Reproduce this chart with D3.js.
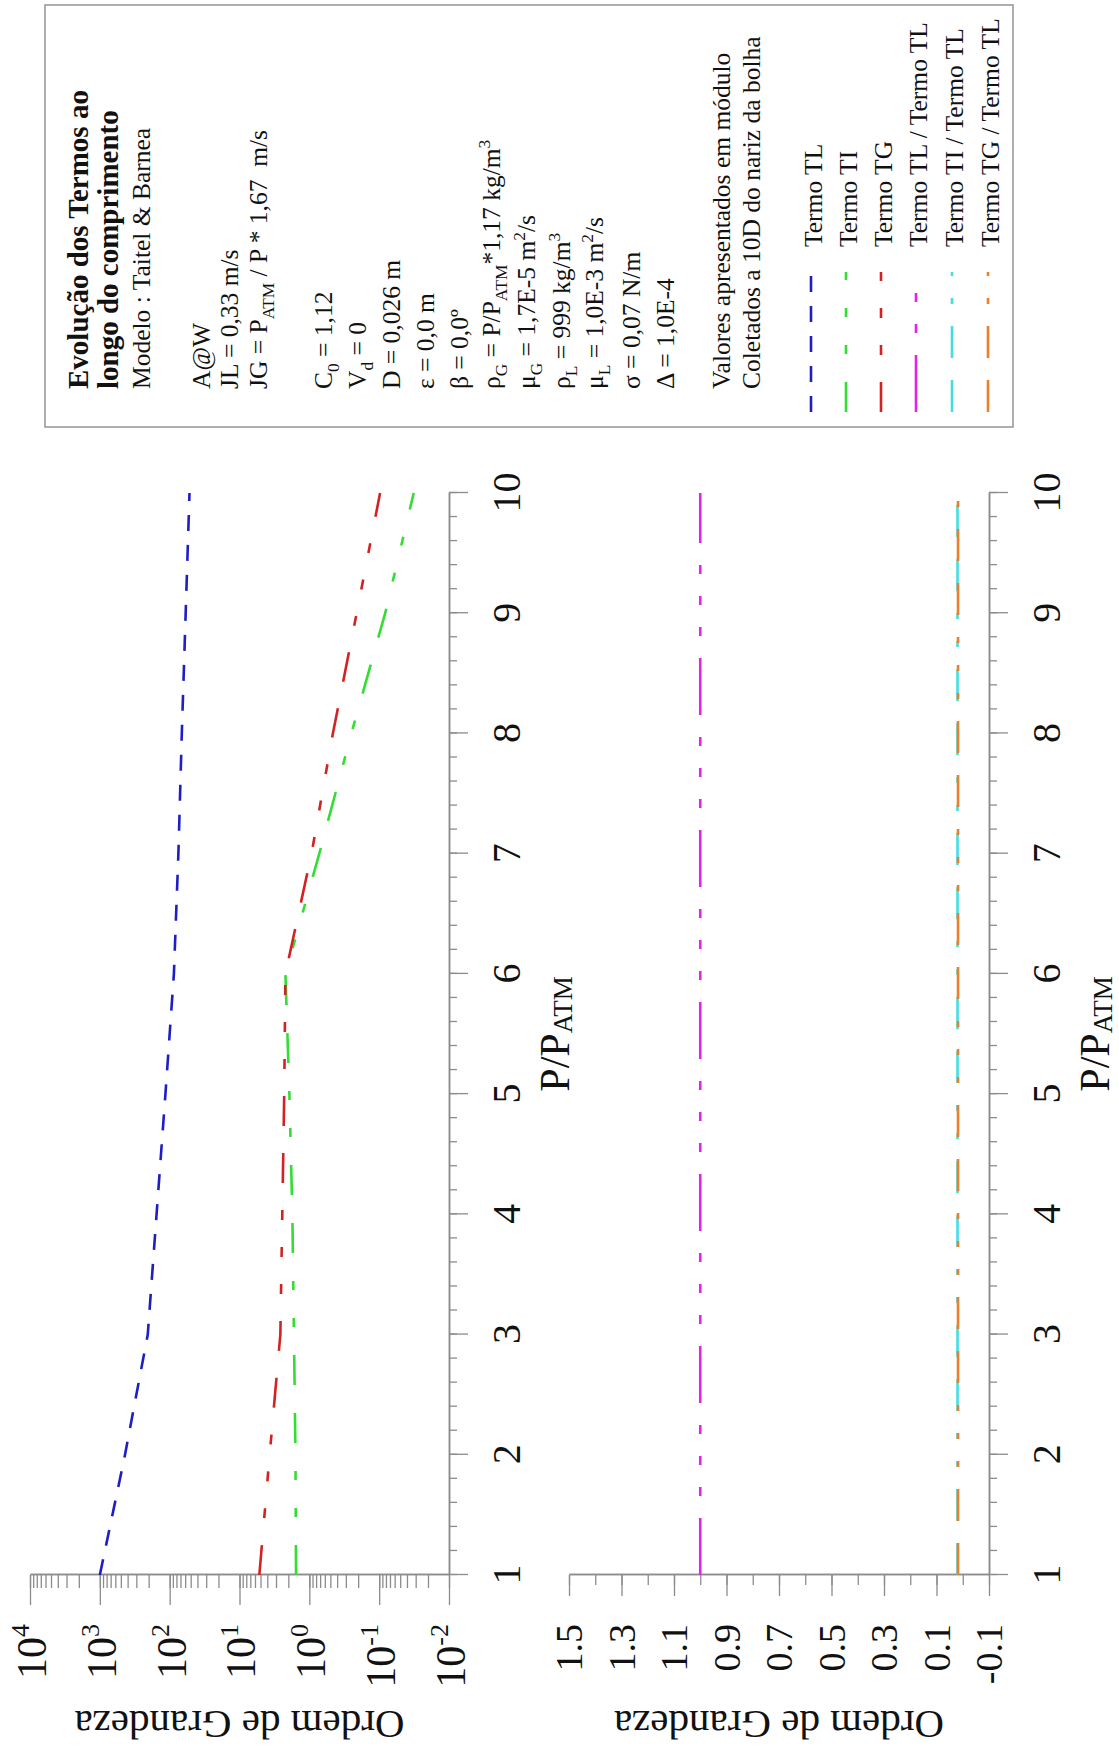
<!DOCTYPE html>
<html><head><meta charset="utf-8">
<script src="https://cdn.jsdelivr.net/npm/d3@7"></script>
<style>body{margin:0;background:#fff}svg{display:block}</style>
</head><body>
<svg id="c" width="1119" height="1747"></svg>
<script>
// ---------- data ----------
const pressure = [1, 2, 3, 4, 5, 6, 7, 8, 9, 10];
const termoTL = [1000, 436, 206, 154, 115, 87, 75, 67, 59, 52];
const termoTI = [1.55, 1.58, 1.66, 1.75, 1.93, 2.2, 0.72, 0.25, 0.082, 0.032];
const termoTG = [5.2, 3.7, 2.6, 2.44, 2.29, 2.2, 0.93, 0.46, 0.21, 0.097];
const ratioTLTL = [1, 1, 1, 1, 1, 1, 1, 1, 1, 1];
const ratioTITL = [0.02, 0.02, 0.02, 0.02, 0.02, 0.02, 0.02, 0.02, 0.02, 0.02];
const ratioTGTL = [0.018, 0.018, 0.018, 0.018, 0.018, 0.018, 0.018, 0.018, 0.018, 0.018];
const xTicks = [1, 2, 3, 4, 5, 6, 7, 8, 9, 10];
const logTicks = [1e4, 1e3, 1e2, 1e1, 1e0, 1e-1, 1e-2];
const logExponents = ["4", "3", "2", "1", "0", "-1", "-2"];
const linTicks = [1.5, 1.3, 1.1, 0.9, 0.7, 0.5, 0.3, 0.1, -0.1];
const linTickLabels = ["1.5", "1.3", "1.1", "0.9", "0.7", "0.5", "0.3", "0.1", "-0.1"];
const seriesNames = ["Termo TL", "Termo TI", "Termo TG", "Termo TL / Termo TL", "Termo TI / Termo TL", "Termo TG / Termo TL"];
const yTitle = "Ordem de Grandeza";
const legendText = [
  [["Evolução dos Termos ao"]],
  [["longo do comprimento"]],
  [["Modelo : Taitel & Barnea"]],
  [["A@W"]],
  [["JL = 0,33 m/s"]],
  [["JG = P"], ["ATM", "sub"], [" / P * 1,67 \u00a0m/s"]],
  [["C"], ["0", "sub"], [" = 1,12"]],
  [["V"], ["d", "sub"], [" = 0"]],
  [["D = 0,026 m"]],
  [["ε = 0,0 m"]],
  [["β = 0,0º"]],
  [["ρ"], ["G", "sub"], [" = P/P"], ["ATM", "sub"], ["*1,17 kg/m"], ["3", "sup"]],
  [["μ"], ["G", "sub"], [" = 1,7E-5 m"], ["2", "sup"], ["/s"]],
  [["ρ"], ["L", "sub"], [" = 999 kg/m"], ["3", "sup"]],
  [["μ"], ["L", "sub"], [" = 1,0E-3 m"], ["2", "sup"], ["/s"]],
  [["σ = 0,07 N/m"]],
  [["Δ = 1,0E-4"]],
  [["Valores apresentados em módulo"]],
  [["Coletados a 10D do nariz da bolha"]]
];

// ---------- layout / style ----------
const legendBaselines = [88, 118, 150, 210, 238, 267, 332, 366, 400, 434, 468, 500, 535, 570, 603, 640, 674, 730, 760];
const entryBaselines = [822, 857, 892, 927, 963, 999];
const colors = ["#1e1ec4", "#33dd33", "#d42222", "#e424e4", "#44dde2", "#ee7f2a"];
const dashes = ["16,14", "30,28,30,28,9,28,9,28", "30,27,30,27,10,27,10,27,10,27",
                "57,22,9,22,9,22,9,22", "32,22,32,22,6,22,6,22", "32,22,32,22,6,22,6,22,6,22"];
const dashOffsets = [0, 58, 57, 0, 0, 0];
const FONT = "'Liberation Serif','Times New Roman',Times,serif";
const AXC = "#8c8c8c";

const svg = d3.select("#c");
const g = svg.append("g").attr("transform", "translate(0,1747) rotate(-90)");

const x = d3.scaleLinear().domain([1, 10]).range([172, 1254]);
const yLog = d3.scaleLog().domain([1e-2, 1e4]).range([449, 30]);
const yLin = d3.scaleLinear().domain([-0.1, 1.5]).range([989, 569]);

function styleAxis(sel) {
  sel.select(".domain").attr("stroke", AXC).attr("stroke-width", 1.5);
  sel.selectAll(".tick line").attr("stroke", AXC).attr("stroke-width", 1.3);
}

function richText(parent, parts, size) {
  const t = parent.append("text").attr("font-family", FONT).attr("font-size", size).attr("fill", "#111")
    .attr("xml:space", "preserve");
  let shift = 0;
  parts.forEach(p => {
    let target = 0, fs = size;
    if (p[1] === "sub") { target = size * 0.28; fs = size * 0.68; }
    if (p[1] === "sup") { target = -size * 0.38; fs = size * 0.68; }
    t.append("tspan").attr("dy", target - shift).attr("font-size", fs).text(p[0]);
    shift = target;
  });
  return t;
}

function xAxis(yPos) {
  const minor = g.append("g").attr("transform", `translate(0,${yPos})`)
    .call(d3.axisBottom(x).tickValues(x.ticks(45)).tickSize(8).tickSizeOuter(0).tickFormat(""));
  styleAxis(minor);
  const major = g.append("g").attr("transform", `translate(0,${yPos})`)
    .call(d3.axisBottom(x).tickValues(xTicks).tickSize(19).tickSizeOuter(0).tickFormat(d3.format("d")));
  styleAxis(major);
  major.selectAll(".tick text").attr("font-family", FONT).attr("font-size", 40).attr("fill", "#111")
    .attr("y", 57).attr("dy", "0.35em");
  const t = richText(g, [["P/P"], ["ATM", "sub"]], 42)
    .attr("x", (x.range()[0] + x.range()[1]) / 2).attr("y", yPos + 120).attr("text-anchor", "middle");
  t.selectAll("tspan").filter((d, i) => i === 1).attr("font-size", 27).attr("dy", 3);
}

function yTitleAt(cy) {
  g.append("text").attr("transform", `translate(36,${cy}) rotate(-90)`).attr("text-anchor", "middle")
    .attr("font-family", FONT).attr("font-size", 41).attr("fill", "#111").text(yTitle);
}

// ---------- top panel (log) ----------
xAxis(449);
const logMinor = g.append("g").attr("transform", `translate(${x(1)},0)`)
  .call(d3.axisLeft(yLog).tickValues(yLog.ticks()).tickSize(13).tickSizeOuter(0).tickFormat(""));
styleAxis(logMinor);
const logMajor = g.append("g").attr("transform", `translate(${x(1)},0)`)
  .call(d3.axisLeft(yLog).tickValues(logTicks).tickSize(30).tickSizeOuter(0).tickFormat(""));
styleAxis(logMajor);
logTicks.forEach((v, i) => {
  const t = g.append("text").attr("x", x(1) - 49).attr("y", yLog(v)).attr("dy", "0.38em")
    .attr("text-anchor", "end").attr("font-family", FONT).attr("font-size", 42).attr("fill", "#111");
  t.append("tspan").text("10");
  t.append("tspan").attr("font-size", 26).attr("dy", -17).text(logExponents[i]);
});
yTitleAt((yLog.range()[0] + yLog.range()[1]) / 2);

const lineLog = d3.line().x(d => x(d[0])).y(d => yLog(d[1]));
[termoTL, termoTI, termoTG].forEach((s, i) => {
  g.append("path").datum(pressure.map((p, j) => [p, s[j]])).attr("d", lineLog)
    .attr("fill", "none").attr("stroke", colors[i]).attr("stroke-width", 2.6)
    .attr("stroke-dasharray", dashes[i]).attr("stroke-dashoffset", dashOffsets[i]);
});

// ---------- bottom panel (linear) ----------
xAxis(989);
const linMinor = g.append("g").attr("transform", `translate(${x(1)},0)`)
  .call(d3.axisLeft(yLin).tickValues(yLin.ticks(16)).tickSize(10).tickSizeOuter(0).tickFormat(""));
styleAxis(linMinor);
const linMajor = g.append("g").attr("transform", `translate(${x(1)},0)`)
  .call(d3.axisLeft(yLin).tickValues(linTicks).tickSize(21).tickSizeOuter(0)
    .tickFormat((d, i) => linTickLabels[i]));
styleAxis(linMajor);
linMajor.selectAll(".tick text").attr("font-family", FONT).attr("font-size", 38).attr("fill", "#111")
  .attr("x", -49).attr("dy", "0.34em");
yTitleAt((yLin.range()[0] + yLin.range()[1]) / 2);

const lineLin = d3.line().x(d => x(d[0])).y(d => yLin(d[1]));
[ratioTLTL, ratioTITL, ratioTGTL].forEach((s, k) => {
  const i = k + 3;
  g.append("path").datum(pressure.map((p, j) => [p, s[j]])).attr("d", lineLin)
    .attr("fill", "none").attr("stroke", colors[i]).attr("stroke-width", 2.6)
    .attr("stroke-dasharray", dashes[i]).attr("stroke-dashoffset", dashOffsets[i]);
});

// ---------- legend ----------
const lg = g.append("g");
lg.append("rect").attr("x", 1320).attr("y", 45).attr("width", 422).attr("height", 968)
  .attr("fill", "none").attr("stroke", "#9a9a9a").attr("stroke-width", 1.6);
legendText.forEach((parts, i) => {
  const bold = i < 2;
  const t = richText(lg, parts, bold ? 29 : 25.5).attr("x", 1358).attr("y", legendBaselines[i]);
  if (bold) t.attr("font-weight", "bold");
});
seriesNames.forEach((name, i) => {
  const yy = entryBaselines[i] - 11;
  lg.append("line").attr("x1", 1335).attr("x2", 1475).attr("y1", yy).attr("y2", yy)
    .attr("stroke", colors[i]).attr("stroke-width", 2.6)
    .attr("stroke-dasharray", dashes[i]).attr("stroke-dashoffset", dashOffsets[i]);
  lg.append("text").attr("x", 1500).attr("y", entryBaselines[i]).attr("font-family", FONT)
    .attr("font-size", 25.5).attr("fill", "#111").text(name);
});
</script>
</body></html>
